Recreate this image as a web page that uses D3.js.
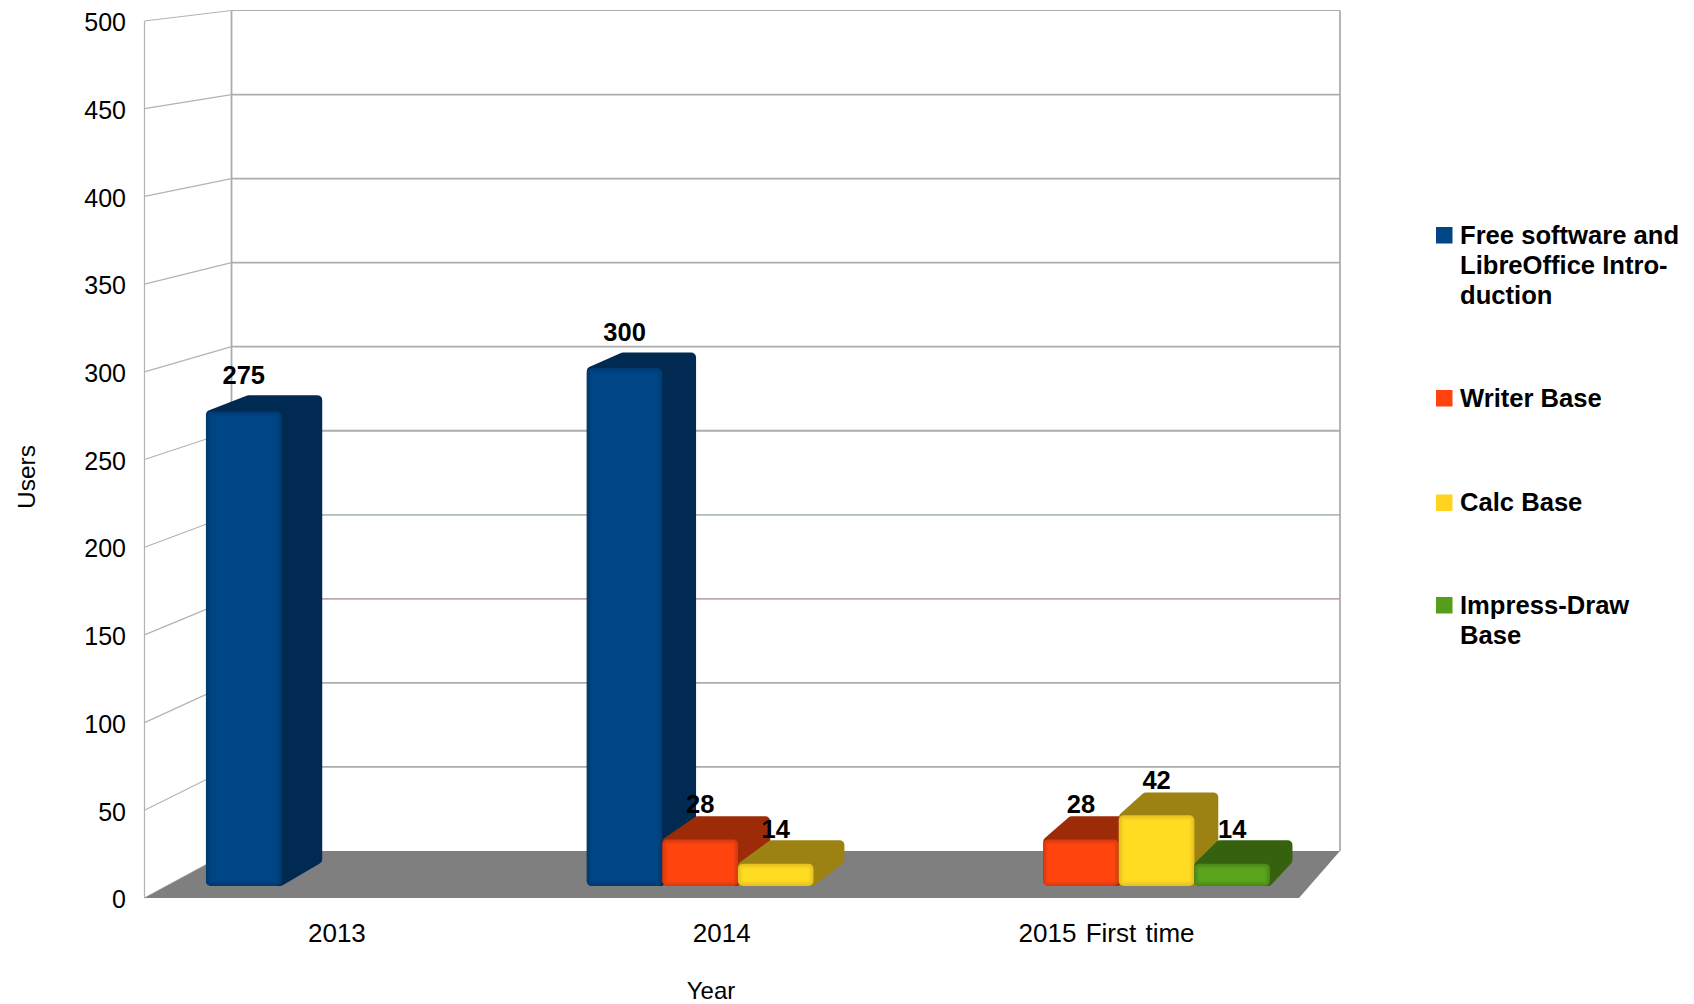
<!DOCTYPE html>
<html>
<head>
<meta charset="utf-8">
<script src="https://cdn.jsdelivr.net/npm/d3@7"></script>
<style>
  body { margin: 0; background: #fff; }
  text { font-family: "Liberation Sans", Arial, sans-serif; fill: #000; }
</style>
</head>
<body>
<div id="chart"></div>
<script>
const categories = ["2013", "2014", "2015 First time"];
const seriesNames = ["Free software and LibreOffice Introduction", "Writer Base", "Calc Base", "Impress-Draw Base"];

// Values per category, same order as seriesNames, null = no bar
const freeSoftware = [275, 300, null];
const writerBase = [null, 28, 28];
const calcBase = [null, 14, 42];
const impressBase = [null, null, 14];

const yTicks = [0, 50, 100, 150, 200, 250, 300, 350, 400, 450, 500];

// Legend text as wrapped in the picture
const legendLines = [
  ["Free software and", "LibreOffice Intro-", "duction"],
  ["Writer Base"],
  ["Calc Base"],
  ["Impress-Draw", "Base"]
];

const legendColors = ["#004586", "#ff420e", "#ffd320", "#579d1c"];
const faceColors = ["#004586", "#ff450e", "#ffdb20", "#5aa51c"];
const edgeColors = ["#003a70", "#d93a0e", "#e6c21e", "#4b8a18"];
const darkColors = ["#002a52", "#9e2b08", "#9c8212", "#366210"];

const allValues = [freeSoftware, writerBase, calcBase, impressBase];

const width = 1694, height = 1004;

const svg = d3.select("#chart").append("svg")
  .attr("width", width)
  .attr("height", height)
  .style("display", "block");

// Floor and wall corners of the 3D box
const floorFront = { left: 144.5, right: 1299, y: 898 };
const floorBack = { left: 231.5, right: 1340, y: 851 };

// Value scales: front edge of left wall, and back wall
const yFront = d3.scaleLinear().domain([0, 500]).range([floorFront.y, 21]);
const yBack = d3.scaleLinear().domain([0, 500]).range([floorBack.y, 10.5]);

// Value scales for the front and back planes of the bars, and the data labels
const yBarFront = d3.scaleLinear().domain([0, 500]).range([888, 21.5]);
const yBarBack = d3.scaleLinear().domain([0, 500]).range([864, 11.5]);
const yLabel = d3.scaleLinear().domain([0, 500]).range([862, -7]);

// Category position along the floor front edge
const x0 = d3.scaleBand()
  .domain(categories)
  .range([floorFront.left, floorFront.right])
  .paddingInner(0.2062)
  .paddingOuter(0.1031);

const x1 = d3.scaleBand()
  .domain(seriesNames)
  .range([0, x0.bandwidth()]);

// Floor position to screen x, on the front and back planes of the bars
const xBarFront = d3.scaleLinear().domain([floorFront.left, floorFront.right]).range([166.7, 1309.2]);
const xBarBack = d3.scaleLinear().domain([floorFront.left, floorFront.right]).range([209.5, 1331]);

// Walls
const gridColor = v => v === 200 ? "#aebdae" : v === 150 ? "#bda9ad" : "#adadad";

const grid = svg.append("g").attr("fill", "none");

yTicks.forEach(v => {
  grid.append("path")
    .attr("d", `M${floorFront.left},${yFront(v)}L${floorBack.left},${yBack(v)}`)
    .attr("stroke", "#b3b3b3")
    .attr("stroke-width", 1.2);
  if (v > 0) {
    grid.append("path")
      .attr("d", `M${floorBack.left},${yBack(v)}L${floorBack.right},${yBack(v)}`)
      .attr("stroke", gridColor(v))
      .attr("stroke-width", v === 500 ? 1.2 : 1.8);
  }
});

grid.append("path")
  .attr("d", `M${floorFront.left},${yFront(500)}V${yFront(0)}`)
  .attr("stroke", "#b3b3b3")
  .attr("stroke-width", 1.2);

[floorBack.left, floorBack.right].forEach(x => {
  grid.append("path")
    .attr("d", `M${x},${yBack(500)}V${yBack(0)}`)
    .attr("stroke", "#adadad")
    .attr("stroke-width", 1.8);
});

// Floor
svg.append("path")
  .attr("d", `M${floorFront.left},${floorFront.y}L${floorFront.right},${floorFront.y}L${floorBack.right},${floorBack.y}L${floorBack.left},${floorBack.y}Z`)
  .attr("fill", "#7f7f7f");

// Small blur for the soft bevel on the front faces
const defs = svg.append("defs");
defs.append("filter")
  .attr("id", "bevel")
  .append("feGaussianBlur")
  .attr("stdDeviation", 1.5);

// Closed polygon with rounded corners
function roundedPolygon(points, r) {
  const p = d3.path();
  const n = points.length;
  p.moveTo((points[n - 1][0] + points[0][0]) / 2, (points[n - 1][1] + points[0][1]) / 2);
  points.forEach((pt, i) => {
    const next = points[(i + 1) % n];
    p.arcTo(pt[0], pt[1], next[0], next[1], r);
  });
  p.closePath();
  return p.toString();
}

// Flatten to one record per bar, drawing order left to right
const bars = [];
categories.forEach((category, c) => {
  seriesNames.forEach((name, s) => {
    const value = allValues[s][c];
    if (value !== null) {
      bars.push({ category, name, s, value });
    }
  });
});

const bar = svg.selectAll(".bar")
  .data(bars)
  .enter().append("g")
  .attr("class", "bar");

// Top and side, both in the dark shade
bar.append("path")
  .attr("fill", d => darkColors[d.s])
  .attr("d", d => {
    const left = x0(d.category) + x1(d.name);
    const right = left + x1.bandwidth();
    return roundedPolygon([
      [xBarFront(left), yBarFront(d.value)],
      [xBarBack(left), yBarBack(d.value)],
      [xBarBack(right), yBarBack(d.value)],
      [xBarBack(right), yBarBack(0) - 2],
      [xBarFront(right), yBarFront(0) - 2],
      [xBarFront(left), yBarFront(0) - 2]
    ], 5);
  });

// Front face: darker rim with the blurred fill on top
bar.append("rect")
  .attr("x", d => xBarFront(x0(d.category) + x1(d.name)))
  .attr("y", d => yBarFront(d.value))
  .attr("width", d => xBarFront(x0(d.category) + x1(d.name) + x1.bandwidth()) - xBarFront(x0(d.category) + x1(d.name)))
  .attr("height", d => yBarFront(0) - 2 - yBarFront(d.value))
  .attr("rx", 5)
  .attr("fill", d => edgeColors[d.s]);

bar.append("rect")
  .attr("x", d => xBarFront(x0(d.category) + x1(d.name)) + 3)
  .attr("y", d => yBarFront(d.value) + 3)
  .attr("width", d => xBarFront(x0(d.category) + x1(d.name) + x1.bandwidth()) - xBarFront(x0(d.category) + x1(d.name)) - 6)
  .attr("height", d => yBarFront(0) - 8 - yBarFront(d.value))
  .attr("fill", d => faceColors[d.s])
  .attr("filter", "url(#bevel)");

// Data labels on top of every bar
svg.selectAll(".value-label")
  .data(bars)
  .enter().append("text")
  .attr("class", "value-label")
  .attr("x", d => xBarFront(x0(d.category) + x1(d.name) + x1.bandwidth() / 2))
  .attr("y", d => yLabel(d.value))
  .attr("text-anchor", "middle")
  .style("font-size", "25.5px")
  .style("font-weight", "bold")
  .text(d => d.value);

// Y axis
const yAxis = svg.append("g")
  .attr("transform", `translate(${floorFront.left},0)`)
  .call(d3.axisLeft(yFront).tickValues(yTicks).tickSize(0).tickPadding(18.5));
yAxis.select(".domain").remove();
yAxis.selectAll("text")
  .attr("dy", "0.39em")
  .style("font-size", "25px")
  .style("font-family", "'Liberation Sans', Arial, sans-serif");

// X axis
const xAxis = svg.append("g")
  .attr("transform", `translate(0,${floorFront.y})`)
  .call(d3.axisBottom(x0).tickSize(0).tickPadding(26));
xAxis.select(".domain").remove();
xAxis.selectAll("text")
  .style("font-size", "26px")
  .style("word-spacing", "2px")
  .style("font-family", "'Liberation Sans', Arial, sans-serif");

// Axis titles
svg.append("text")
  .attr("transform", "translate(34.5,477) rotate(-90)")
  .attr("text-anchor", "middle")
  .style("font-size", "24.5px")
  .text("Users");

svg.append("text")
  .attr("x", 711)
  .attr("y", 998.8)
  .attr("text-anchor", "middle")
  .style("font-size", "24px")
  .text("Year");

// Legend, one block per series
const legendTops = [227, 390, 494.5, 597];
const lineHeight = 30;

const legend = svg.selectAll(".legend")
  .data(seriesNames)
  .enter().append("g")
  .attr("class", "legend")
  .attr("transform", (d, i) => `translate(1436,${legendTops[i]})`);

legend.append("rect")
  .attr("width", 16.5)
  .attr("height", 16.5)
  .attr("fill", (d, i) => legendColors[i]);

legend.each(function(d, i) {
  d3.select(this).selectAll("text")
    .data(legendLines[i])
    .enter().append("text")
    .attr("x", 24)
    .attr("y", (line, j) => 16.5 + j * lineHeight)
    .style("font-size", "25.6px")
    .style("font-weight", "bold")
    .text(line => line);
});
</script>
</body>
</html>
